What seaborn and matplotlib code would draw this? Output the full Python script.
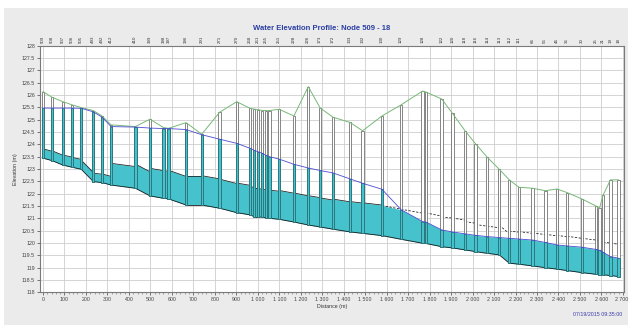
import numpy as np
import pandas as pd
import matplotlib
matplotlib.use("Agg")
import matplotlib.pyplot as plt
import matplotlib.transforms as mtransforms
from matplotlib.patches import Rectangle
from matplotlib.ticker import MultipleLocator, FuncFormatter
import seaborn as sns

# Nodes along the profile, upstream (509) to downstream (18)
node_ids = [509, 508, 507, 506, 505, 493, 492, 412, 410, 399, 398, 397, 396,
            291, 271, 270, 268, 262, 261, 260, 255, 252, 251, 228, 226, 173,
            172, 133, 132, 130, 129, 128, 127, 122, 120, 118, 116, 114, 113,
            112, 111, 66, 56, 46, 36, 30, 25, 24, 21, 19, 18]

distance_m = [0, 42, 92, 136, 178, 234, 275, 317, 430, 498, 561, 584, 666,
              739, 822, 902, 964, 982, 1001, 1020, 1038, 1054, 1100, 1168,
              1235, 1290, 1350, 1429, 1488, 1578, 1667, 1767, 1783, 1856,
              1906, 1965, 2014, 2068, 2124, 2171, 2216, 2279, 2339, 2393,
              2441, 2508, 2574, 2591, 2608, 2642, 2680]

ground_elev = [126.14, 125.91, 125.73, 125.60, 125.49, 125.37, 125.15, 124.79,
               124.72, 125.02, 124.68, 124.65, 124.88, 124.41, 125.30, 125.73,
               125.46, 125.43, 125.41, 125.37, 125.37, 125.37, 125.42, 125.15,
               126.34, 125.48, 125.10, 124.89, 124.55, 125.15, 125.60, 126.16,
               126.12, 125.84, 125.26, 124.55, 124.02, 123.48, 122.99, 122.56,
               122.26, 122.22, 122.12, 122.19, 122.04, 121.79, 121.50, 121.41,
               121.95, 122.56, 122.56]

invert_elev = [123.44, 123.34, 123.16, 123.07, 122.99, 122.49, 122.45, 122.35,
               122.22, 121.91, 121.81, 121.79, 121.54, 121.54, 121.41, 121.23,
               121.14, 121.07, 121.07, 121.04, 121.03, 121.00, 120.96, 120.85,
               120.73, 120.65, 120.56, 120.45, 120.39, 120.30, 120.15, 119.99,
               119.98, 119.85, 119.80, 119.72, 119.65, 119.58, 119.52, 119.18,
               119.14, 119.07, 119.00, 118.94, 118.88, 118.80, 118.73, 118.72,
               118.71, 118.68, 118.64]

water_elev = [125.47, 125.47, 125.47, 125.47, 125.46, 125.32, 125.10, 124.72,
              124.70, 124.66, 124.64, 124.64, 124.60, 124.39, 124.21, 124.04,
              123.84, 123.76, 123.70, 123.64, 123.55, 123.50, 123.40, 123.19,
              123.04, 122.94, 122.84, 122.60, 122.42, 122.18, 121.35, 120.87,
              120.85, 120.53, 120.45, 120.37, 120.31, 120.26, 120.22, 120.19,
              120.16, 120.12, 120.02, 119.92, 119.88, 119.83, 119.74, 119.70,
              119.62, 119.45, 119.38]

# Conduit diameters (m), one per link between consecutive nodes
pipe_diam = [0.38, 0.40, 0.41, 0.40, 0.37, 0.34, 0.35, 0.88, 0.98, 1.12,
             1.12, 1.16, 1.19, 1.19, 1.18, 1.20, 1.17, 1.15, 1.14, 1.13,
             1.12, 1.14, 1.17, 1.18, 1.19, 1.18, 1.22, 1.23, 1.24, 1.22,
             1.22, 1.27, 1.24, 1.21, 1.21, 1.15, 1.10, 1.10, 1.20, 1.30,
             1.32, 1.34, 1.35, 1.37, 1.39, 1.39, 1.36, 1.33, 1.32, 1.31]

x_ticks = list(range(0, 2800, 100))
y_ticks = list(np.arange(118.0, 128.01, 0.5))

WATER = "#45c2cc"
WATER_EDGE = "#1e6c74"
HGL = "#4b4bd2"
GROUND = "#78b878"

nodes = pd.DataFrame({
    "node": node_ids,
    "distance": distance_m,
    "ground": ground_elev,
    "invert": invert_elev,
    "water": water_elev,
})

sns.set_theme(style="white")
plt.rcParams["font.family"] = ["Liberation Sans", "DejaVu Sans"]

W, H = 628, 327
fig = plt.figure(figsize=(W / 100, H / 100), dpi=100)
fig.patch.set_facecolor("white")
fig.add_artist(Rectangle((4 / W, 2 / H), (W - 4) / W, (H - 10) / H,
                         transform=fig.transFigure, facecolor="#ebebeb",
                         edgecolor="none", zorder=-10))

ax = fig.add_axes([40 / W, (H - 292.3) / H, 584 / W, (292.3 - 45.7) / H])
ax.set_facecolor("white")

d = nodes["distance"].to_numpy(float)
g = nodes["ground"].to_numpy(float)
inv = nodes["invert"].to_numpy(float)
wl = nodes["water"].to_numpy(float)
diam = np.asarray(pipe_diam, float)

# Conduits: water-filled part and outline
for i in range(len(d) - 1):
    xs = [d[i], d[i + 1]]
    bot = [inv[i], inv[i + 1]]
    crown = [inv[i] + diam[i], inv[i + 1] + diam[i]]
    top = [min(crown[0], wl[i]), min(crown[1], wl[i + 1])]
    ax.fill_between(xs, bot, top, color=WATER, lw=0, zorder=2)
    full = wl[i] >= crown[0] - 0.01 and wl[i + 1] >= crown[1] - 0.01
    ax.plot(xs, crown, color="#1a1a1a", lw=0.55,
            ls="-" if full else (0, (3, 2)), zorder=2.5)
    ax.plot(xs, bot, color="#1a1a1a", lw=0.6, zorder=2.5)

# Manholes: full depth shell, then the flooded part
mh_w = 11
ax.bar(d, g - inv, bottom=inv, width=mh_w, color="white",
       edgecolor="#666666", linewidth=0.55, zorder=3)
ax.bar(d, np.minimum(wl, g) - inv, bottom=inv, width=mh_w, color=WATER,
       edgecolor=WATER_EDGE, linewidth=0.55, zorder=4)

# Ground surface and hydraulic grade line
sns.lineplot(data=nodes, x="distance", y="ground", color=GROUND, lw=0.7,
             estimator=None, sort=False, ax=ax, zorder=5)
sns.lineplot(data=nodes, x="distance", y="water", color=HGL, lw=0.6,
             estimator=None, sort=False, ax=ax, zorder=5)

# Node labels along the top edge
trans = mtransforms.blended_transform_factory(ax.transData, ax.transAxes)
last = -1e9
for nid, x in zip(node_ids, d):
    if x - last < 20:
        continue
    ax.text(x, 1.012, str(nid), transform=trans, rotation=90, ha="center",
            va="bottom", fontsize=3.2, color="#333333")
    last = x

ax.set_xlim(-14, 2705)
ax.set_ylim(118, 128)
ax.set_xticks(x_ticks)
ax.set_yticks(y_ticks)
ax.xaxis.set_minor_locator(MultipleLocator(20))
ax.xaxis.set_major_formatter(FuncFormatter(lambda v, p: f"{int(round(v)):,}".replace(",", " ")))
ax.yaxis.set_major_formatter(FuncFormatter(lambda v, p: f"{v:g}"))
ax.grid(True, which="major", color="#cdcdcd", lw=0.6)
ax.set_axisbelow(True)
ax.tick_params(axis="both", which="major", labelsize=3.8, colors="#444444",
               length=2, width=0.5, pad=1.5, bottom=True, left=True)
ax.tick_params(axis="x", which="minor", length=1.2, width=0.4,
               color="#666666", bottom=True)
for s in ax.spines.values():
    s.set_color("#7a7a7a")
    s.set_linewidth(0.8)

# keep the last distance label inside the figure
fig.canvas.draw()
last_lbl = ax.get_xticklabels()[-1]
last_lbl.set_horizontalalignment("right")
last_lbl.set_transform(last_lbl.get_transform() +
                       mtransforms.ScaledTranslation(5 / 100, 0, fig.dpi_scale_trans))

ax.set_xlabel("Distance (m)", fontsize=3.8, color="#333333", labelpad=1.5)
ax.set_ylabel("Elevation (m)", fontsize=3.8, color="#333333", labelpad=3)

fig.text(322 / W, 1 - 29 / H, "Water Elevation Profile: Node 509 - 18",
         ha="center", va="center", fontsize=5.5, fontweight="bold",
         color="#2b3fa3")
fig.text(598 / W, 1 - 314 / H, "07/19/2015 09:35:00", ha="center",
         va="center", fontsize=3.8, color="#3a3aa8")

fig.savefig("out.png", dpi=100, facecolor=fig.get_facecolor())
